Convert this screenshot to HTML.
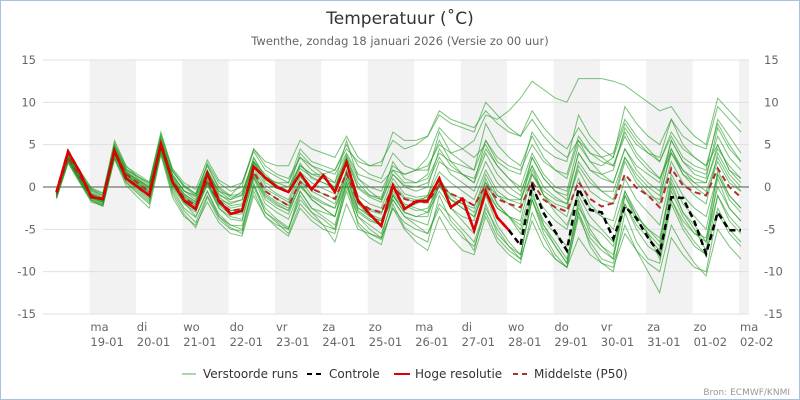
<!DOCTYPE html>
<html><head><meta charset="utf-8"><style>
body{margin:0;background:#fff;}
svg{display:block;font-family:"DejaVu Sans","Liberation Sans",sans-serif;}
</style></head><body>
<svg id="chart" width="800" height="400" viewBox="0 0 800 400">
<rect x="0.5" y="0.5" width="799" height="399" fill="#fff" stroke="#a8c0e8"/>
<text x="400" y="24" text-anchor="middle" font-size="17" fill="#333">Temperatuur (˚C)</text>
<text x="400" y="45" text-anchor="middle" font-size="11.5" fill="#666">Twenthe, zondag 18 januari 2026 (Versie zo 00 uur)</text>
<g id="bands"></g><g id="grid"></g><g id="members"></g><g id="mainlines"></g><g id="axes"></g>
<g>
 <g><line x1="182" y1="374" x2="196" y2="374" stroke="#a8d8a8" stroke-width="2"/><text x="203" y="378" font-size="12" fill="#333">Verstoorde runs</text></g>
 <g><line x1="307" y1="374" x2="322" y2="374" stroke="#000" stroke-width="2" stroke-dasharray="5,4"/><text x="329" y="378" font-size="12" fill="#333">Controle</text></g>
 <g><line x1="394" y1="374" x2="410" y2="374" stroke="#e00000" stroke-width="2"/><text x="415" y="378" font-size="12" fill="#333">Hoge resolutie</text></g>
 <g><line x1="513" y1="374" x2="528" y2="374" stroke="#b03030" stroke-width="2" stroke-dasharray="5,4"/><text x="534" y="378" font-size="12" fill="#333">Middelste (P50)</text></g>
</g>
<text x="790" y="395" text-anchor="end" font-size="9" fill="#999">Bron: ECMWF/KNMI</text>
</svg>
<script>
const dayNames=["ma","di","wo","do","vr","za","zo","ma","di","wo","do","vr","za","zo","ma"];
const dayDates=["19-01","20-01","21-01","22-01","23-01","24-01","25-01","26-01","27-01","28-01","29-01","30-01","31-01","01-02","02-02"];
const yTicks=[-15,-10,-5,0,5,10,15];
const p50=[-0.8,3.5,1.2,-1,-1.5,4.2,1.5,0.5,-0.6,4.9,0.7,-1.3,-2.2,0.8,-1.8,-2.8,-2.6,1.8,-0.5,-1.4,-2.2,0.6,-0.2,-0.8,-1.4,1.6,-1.8,-2.6,-3.0,0,-1.4,-1.8,-1.8,0.2,-0.8,-1.4,-2.2,0.2,-1.4,-2.0,-2.4,0.6,-1.5,-2.4,-2.9,0.6,-1.4,-2.3,-1.9,1.5,-0.1,-1.0,-2.4,2.2,0.2,-0.6,-1.0,2.2,0,-1.2];
const hires=[-0.6,4.2,1.8,-1.2,-1.4,4.3,1.0,0,-1.0,5.1,0.6,-1.6,-2.6,1.6,-1.6,-3.2,-2.8,2.4,1.1,0,-0.6,1.6,-0.3,1.4,-0.6,2.9,-1.6,-3.2,-4.6,0.2,-2.6,-1.7,-1.6,1.0,-2.4,-1.4,-5.1,-0.5,-3.6,-5.1];
const control=[-0.6,4.2,1.8,-1.2,-1.4,4.3,1.0,0,-1.0,5.1,0.6,-1.6,-2.6,1.6,-1.6,-3.2,-2.8,2.4,1.1,0,-0.6,1.6,-0.3,1.4,-0.6,2.9,-1.6,-3.2,-4.6,0.2,-2.6,-1.7,-1.6,1.0,-2.4,-1.4,-5.1,-0.5,-3.6,-5.1,-6.9,0.2,-3.1,-5.3,-7.5,-0.2,-2.7,-3.0,-6.1,-2.3,-3.7,-6.0,-7.9,-1.2,-1.3,-4.1,-7.9,-3.0,-5.1,-5.1];
const m1=[-1.0,3.8,1.5,-0.5,-1.2,4.8,2.0,1.2,0.2,5.6,1.5,-0.5,-1.0,2.0,-0.5,-1.5,-1.0,3.5,1.2,0.5,0,2.5,1.5,1.0,0.5,3.8,1.0,0,-0.5,2.5,1.5,2.0,2.5,5.0,4.0,4.5,5.5,8.5,8.0,9.0,10.5,12.5,11.5,10.5,10.0,12.8,12.8,12.8,12.5,12.0,11.0,10.0,9.0,9.5,7.5,6.0,5.0,10.5,9.0,7.5];
const m2=[-1.2,3.2,0.8,-1.4,-2.0,3.6,0.8,-0.4,-1.6,4.2,-0.2,-2.5,-3.6,-0.5,-3.2,-4.5,-4.6,0.2,-2.5,-3.8,-4.8,-1.5,-3.0,-3.8,-5.0,-0.5,-4.2,-5.5,-6.2,-2.5,-4.2,-5.0,-5.5,-2.0,-3.5,-5.0,-6.5,-2.5,-5.0,-7.0,-8.0,-1.5,-5.5,-8.0,-9.5,-3.5,-6.5,-8.5,-9.0,-4.5,-7.5,-10.0,-12.5,-6.0,-8.0,-9.5,-10.0,-3.0,-5.5,-7.0];
const m3=[-0.6,4.2,2.0,-0.2,-0.8,5.5,2.5,1.2,0.5,6.5,2.0,0.2,-0.8,2.5,-0.2,-1.2,-1.0,3.0,1.5,0.2,-0.5,4.0,2.5,1.5,0.5,5.5,1.0,-0.5,-1.5,3.0,1.0,0.5,1.5,6.5,4.0,3.0,2.0,7.5,5.0,3.5,2.5,6.0,3.5,2.0,1.0,5.5,4.0,3.5,4.0,8.0,6.0,4.5,3.0,6.5,4.5,3.5,2.5,7.5,5.0,3.0];
const m4=[-1.4,2.8,0.5,-1.8,-2.2,3.5,0.5,-0.8,-2.0,4.0,-0.8,-3.2,-4.8,-1.2,-3.8,-5.0,-5.2,0.5,-3.0,-4.2,-5.5,-2.0,-3.5,-4.5,-5.0,0.5,-4.5,-6.0,-6.8,-2.0,-4.8,-5.8,-6.5,-1.0,-4.0,-5.5,-7.5,-2.0,-5.5,-7.0,-8.5,-0.5,-4.5,-7.0,-9.0,-1.5,-5.0,-7.0,-8.5,-1.0,-4.0,-5.5,-7.0,0.5,-3.0,-5.0,-7.5,1.0,-2.5,-4.0];
const m5=[-0.9,3.6,1.4,-0.8,-1.4,4.5,1.8,0.8,-0.2,5.2,1.2,-0.8,-1.8,1.5,-1.2,-2.2,-2.0,2.5,0.2,-0.8,-1.5,1.8,0.5,-0.2,-0.8,2.8,-1.0,-2.0,-2.5,1.0,-0.8,-1.2,-1.0,1.8,0.5,-0.5,-1.5,2.0,-0.5,-1.5,-2.0,3.5,1.0,-0.5,-1.0,4.0,2.0,1.0,0.5,4.5,2.5,1.5,0.5,5.5,3.0,2.0,1.5,6.0,3.5,2.0];
const m6=[-1.0,3.4,1.0,-1.2,-1.8,4.0,1.2,0.0,-1.2,4.6,0.2,-1.8,-2.8,0.2,-2.5,-3.5,-3.8,1.2,-1.5,-2.5,-3.2,0.2,-1.5,-2.5,-3.5,1.0,-2.8,-3.8,-4.5,-1.0,-2.5,-2.0,-1.0,3.0,2.0,1.5,1.0,4.5,2.5,1.0,-0.5,2.5,-1.0,-3.0,-4.5,-1.0,-3.5,-5.0,-6.5,-2.0,-4.5,-6.0,-7.5,-1.5,-4.5,-6.5,-8.0,-2.5,-5.0,-6.5];
const m7=[-0.7,3.9,1.7,-0.4,-1.0,5.0,2.2,1.0,0.0,5.8,1.8,0.0,-1.0,2.8,0.5,-0.5,0.0,4.5,2.5,1.5,1.0,3.5,2.0,1.0,0.0,3.5,0.5,-1.0,-1.5,1.5,0.0,-0.5,0.0,4.5,2.5,1.5,0.5,5.5,3.0,2.0,1.5,6.5,4.5,3.5,3.0,8.5,6.0,4.5,3.5,7.5,5.5,4.0,3.0,6.0,3.5,2.5,2.0,8.0,6.0,4.0];
const m8=[-1.1,3.0,0.6,-1.6,-2.3,3.3,0.2,-1.2,-2.5,3.8,-1.2,-3.5,-4.5,-1.8,-4.2,-5.5,-5.8,-1.0,-3.5,-4.5,-5.0,-0.5,-2.5,-3.0,-3.5,2.0,-2.0,-3.5,-4.0,-1.5,-3.5,-4.5,-5.5,-2.5,-4.5,-6.0,-7.0,-3.0,-6.0,-7.5,-8.5,-4.0,-7.0,-8.5,-9.5,-6.0,-8.0,-9.0,-9.5,-5.5,-7.5,-9.0,-10.0,-4.5,-7.0,-9.0,-10.5,-5.0,-7.0,-8.5];
const m9=[-0.8,3.7,1.3,-0.9,-1.5,4.4,1.6,0.6,-0.5,5.0,0.9,-1.0,-2.0,1.2,-1.5,-2.5,-2.2,2.2,-0.2,-1.0,-1.8,1.2,-0.5,-1.2,-2.0,2.0,-2.0,-2.8,-3.2,0.5,-1.2,-1.5,-1.2,1.0,-1.5,-2.5,-3.5,0.0,-2.5,-3.5,-4.0,1.5,-1.0,-2.0,-2.5,3.0,1.0,-0.5,-1.5,3.5,1.0,-0.5,-2.0,3.0,0.5,-1.0,-2.0,4.0,1.5,0.0];
const m10=[-0.9,3.6,1.2,-1.0,-1.6,4.3,1.4,0.4,-0.7,4.8,0.8,-1.2,-2.0,1.0,-1.5,-2.0,-1.5,3.0,1.0,0.5,0.5,3.5,2.5,2.0,1.5,4.0,1.5,1.0,0.5,2.0,1.5,2.0,3.5,7.0,5.5,4.5,3.5,5.0,2.5,1.0,0.0,4.0,1.5,0.0,-0.5,5.0,3.0,2.5,3.5,9.5,7.5,6.0,5.0,8.0,5.0,3.5,2.5,5.0,2.0,0.5];
const m11=[-1.3,3.1,0.7,-1.5,-2.1,3.9,1.0,-0.2,-1.4,4.5,0.0,-2.0,-3.0,0.5,-2.5,-3.8,-4.0,1.0,-2.0,-3.0,-3.8,-0.5,-2.5,-3.5,-4.5,0.5,-3.5,-5.0,-6.0,-2.5,-5.0,-6.5,-7.5,-3.5,-6.0,-7.5,-8.0,-3.5,-6.5,-8.0,-9.0,-3.0,-6.0,-8.5,-9.5,-3.0,-7.0,-9.0,-10.0,-3.0,-6.5,-8.5,-9.0,-2.0,-5.0,-7.0,-8.0,-1.0,-4.0,-5.5];
const m12=[-0.7,3.3,1.1,-1.1,-1.6,4.1,1.7,0.9,0.0,5.3,1.4,-0.4,-1.2,2.0,-0.8,-1.8,-1.5,2.8,0.8,0.0,-0.6,2.2,1.2,0.5,-0.2,3.2,-0.2,-1.2,-1.8,1.5,0.2,0.0,0.5,3.5,1.5,0.5,-0.5,3.0,0.5,-0.8,-1.5,2.5,0.0,-1.2,-2.0,2.0,-0.5,-1.5,-2.0,3.0,0.5,-1.0,-1.5,4.5,2.0,0.5,-0.5,3.5,1.0,-0.5];
const m13=[-1.2,3.3,0.9,-1.3,-1.9,3.8,1.1,0.2,-1.0,4.4,0.3,-1.8,-3.5,-0.5,-3.5,-4.5,-5.0,0.0,-3.0,-4.0,-5.0,-1.0,-3.0,-4.5,-6.5,-2.0,-5.0,-5.5,-6.0,-1.0,-3.0,-3.5,-3.0,1.0,-1.0,-2.0,-3.0,0.5,-2.0,-3.5,-5.0,-1.0,-4.0,-5.5,-7.0,-2.5,-4.5,-5.5,-7.0,-0.5,-3.0,-5.5,-8.5,-1.5,-4.0,-5.5,-6.0,0.0,-2.5,-4.0];
const m14=[-0.8,3.5,1.3,-0.7,-1.3,4.6,1.9,0.8,0.0,5.5,1.3,-0.5,-1.5,2.0,-1.0,-1.5,-0.5,3.0,0.5,-0.2,-0.5,2.5,1.5,1.5,2.0,4.5,3.0,2.5,3.0,5.5,4.5,5.0,6.0,8.5,7.5,7.0,6.5,10.0,8.5,7.0,6.0,9.0,7.0,5.5,4.5,7.0,5.0,3.5,2.5,6.0,3.5,2.0,1.0,4.5,1.5,0.5,0.5,5.0,2.0,1.0];
const m15=[-1.0,3.4,1.0,-1.3,-1.8,4.2,1.4,0.3,-0.8,4.7,0.5,-1.5,-2.5,0.5,-2.0,-3.0,-3.0,1.5,-1.0,-2.0,-2.8,0.8,-1.0,-1.8,-2.5,1.5,-2.5,-3.5,-4.0,-0.5,-2.0,-2.5,-3.0,-0.5,-2.5,-4.0,-5.5,-1.0,-4.5,-6.5,-8.0,-1.5,-5.0,-7.0,-9.0,-2.0,-5.5,-7.0,-8.0,-1.0,-3.5,-5.0,-6.5,1.0,-2.0,-3.5,-5.0,1.5,-1.5,-3.0];
const m16=[-0.6,3.8,1.6,-0.3,-1.0,4.9,2.1,1.3,0.4,6.0,1.9,0.1,-0.8,2.6,0.0,-1.0,-0.8,3.4,1.0,0.0,-0.6,2.8,1.0,0.5,0.0,3.5,0.0,-1.0,-1.2,2.0,0.5,0.5,1.0,4.0,3.0,2.5,2.0,5.5,3.5,2.5,2.0,5.0,3.0,2.0,1.5,6.0,4.0,3.0,2.5,6.5,4.0,2.5,1.0,4.0,1.5,0.0,-1.0,3.0,0.5,-0.5];
const m17=[-1.1,3.2,0.9,-1.2,-1.7,3.9,1.2,0.1,-1.1,4.5,0.4,-1.6,-2.6,0.4,-2.2,-3.2,-3.2,1.2,-1.2,-2.2,-2.8,0.0,-1.2,-2.0,-2.5,1.0,-2.5,-3.2,-3.8,-0.8,-2.2,-2.8,-2.5,0.0,-1.5,-2.5,-3.5,-0.5,-2.5,-3.5,-4.5,0.0,-2.5,-4.0,-5.0,-0.5,-2.5,-3.5,-4.0,1.0,-1.5,-3.0,-4.5,1.5,-1.0,-2.5,-3.5,1.5,-1.0,-2.5];
const m18=[-0.5,4.0,1.9,-0.1,-0.7,5.2,2.4,1.5,0.6,6.2,2.2,0.5,-0.3,3.2,0.8,0.0,0.5,4.2,2.0,1.2,0.5,4.5,3.0,2.5,2.0,5.0,2.5,1.5,1.0,4.0,2.5,2.0,2.0,5.5,3.0,1.5,0.5,4.0,1.5,0.0,-1.0,3.5,1.0,-0.5,-1.5,4.0,2.0,1.5,2.0,7.0,5.0,4.0,3.5,8.0,6.0,5.0,4.5,9.5,8.0,6.5];
const m19=[-1.3,3.0,0.7,-1.6,-2.2,3.4,0.6,-0.6,-1.8,4.1,-0.5,-2.8,-4.2,-1.0,-3.5,-4.8,-5.5,-0.5,-3.5,-4.8,-5.8,-2.5,-4.0,-5.0,-5.5,0.0,-3.5,-4.5,-5.5,-1.5,-3.5,-4.0,-4.5,0.5,-2.5,-3.5,-4.0,1.0,-2.0,-3.5,-5.5,-1.5,-4.5,-6.5,-8.5,-3.0,-6.0,-7.5,-8.5,-2.0,-5.0,-7.0,-8.0,-0.5,-3.5,-5.5,-6.5,2.0,-1.0,-2.5];
const m20=[-0.8,3.6,1.3,-0.8,-1.4,4.4,1.7,0.7,-0.3,5.1,1.0,-0.9,-1.7,1.8,-0.5,-1.0,0.5,4.5,3.0,2.5,2.5,5.5,4.5,4.0,3.5,6.0,3.5,2.5,2.5,6.5,5.5,5.5,6.0,9.0,8.0,7.5,7.0,9.0,7.5,6.5,6.0,8.0,6.0,4.5,3.5,5.5,3.0,1.5,0.5,4.5,2.0,0.5,-0.5,5.5,3.0,1.5,1.0,7.0,4.5,3.0];
const m21=[-1.0,3.3,1.0,-1.1,-1.7,4.0,1.3,0.2,-0.9,4.6,0.5,-1.4,-2.3,0.7,-2.0,-2.8,-2.5,1.5,-0.8,-1.8,-2.5,0.5,-1.5,-2.5,-3.5,0.5,-3.0,-4.0,-4.5,-1.0,-3.0,-3.5,-3.5,0.5,-1.5,-2.0,-2.5,1.5,-1.0,-2.0,-3.0,2.0,-1.0,-2.5,-3.5,1.0,-2.0,-3.5,-5.0,-0.5,-3.5,-5.0,-6.0,0.0,-3.0,-4.5,-6.5,-1.0,-3.5,-5.0];
const m22=[-0.9,3.5,1.2,-1.0,-1.5,4.2,1.5,0.5,-0.6,4.9,0.7,-1.3,-2.2,0.8,-1.8,-2.8,-2.6,1.8,-0.5,-1.4,-2.2,0.6,-0.2,-0.8,-1.4,1.6,-1.8,-2.6,-3.0,0.0,-1.4,-1.8,-1.8,0.2,-0.8,-1.4,-2.2,0.5,-1.0,-1.5,-1.5,1.5,-0.5,-1.5,-2.0,2.5,0.5,-0.5,-0.5,3.5,1.5,0.0,-1.0,4.0,2.0,1.0,0.5,4.5,2.5,1.0];
const members=[m1,m2,m3,m4,m5,m6,m7,m8,m9,m10,m11,m12,m13,m14,m15,m16,m17,m18,m19,m20,m21,m22];

const NS="http://www.w3.org/2000/svg";
const X0=43,X1=749,Y0=60,Y1=314,DAY=46.4;
const xH=h=>X0+h*DAY/24;
const xI=i=>xH(7+6*i);
const yV=v=>Y1-(v+15)*(Y1-Y0)/30;
function mk(tag,attrs,parent){const e=document.createElementNS(NS,tag);for(const k in attrs)e.setAttribute(k,attrs[k]);parent.appendChild(e);return e;}
const bands=document.getElementById('bands'),grid=document.getElementById('grid'),axes=document.getElementById('axes');
for(let k=0;k<dayNames.length;k++){
  const x=xH(24*(k+1));
  if(k%2===0){const r=mk('rect',{x:x,y:Y0,width:Math.min(DAY,X1-x),height:Y1-Y0,fill:'#f2f2f2'},bands);
    
    }
  const t=mk('text',{x:x+1,y:331,'font-size':11.5,fill:'#666'},axes);t.textContent=dayNames[k];
  
  
  const t2=mk('text',{x:x+1,y:346,'font-size':11.5,fill:'#666'},axes);t2.textContent=dayDates[k];
  
  
}
yTicks.forEach(v=>{
  const y=yV(v);
  const l=mk('line',{x1:X0,x2:X1,y1:y,y2:y,stroke:v===0?'#555':'#e0e0e0','stroke-width':1},grid);
  
  
  const a=mk('text',{x:36,y:y+4,'text-anchor':'end','font-size':11.5,fill:'#666'},axes);a.textContent=v;
  
  
  const b=mk('text',{x:764,y:y+4,'font-size':11.5,fill:'#666'},axes);b.textContent=v;
  
  
});
const pts=arr=>arr.map((v,i)=>xI(i).toFixed(1)+','+yV(v).toFixed(1)).join(' ');
const mg=document.getElementById('members');
members.forEach((m,j)=>{
  const p=mk('polyline',{points:pts(m),fill:'none',stroke:'#1f9a1f','stroke-opacity':0.6,'stroke-width':1},mg);
  
  
});
const ml=document.getElementById('mainlines');
const pc=mk('polyline',{points:pts(p50),fill:'none',stroke:'#b03030','stroke-width':2,'stroke-dasharray':'6,4'},ml);


const cl=mk('polyline',{points:pts(control),fill:'none',stroke:'#000','stroke-width':2.5,'stroke-dasharray':'6,4'},ml);


const hl=mk('polyline',{points:pts(hires),fill:'none',stroke:'#e00000','stroke-width':2.5},ml);


</script>
</body></html>
